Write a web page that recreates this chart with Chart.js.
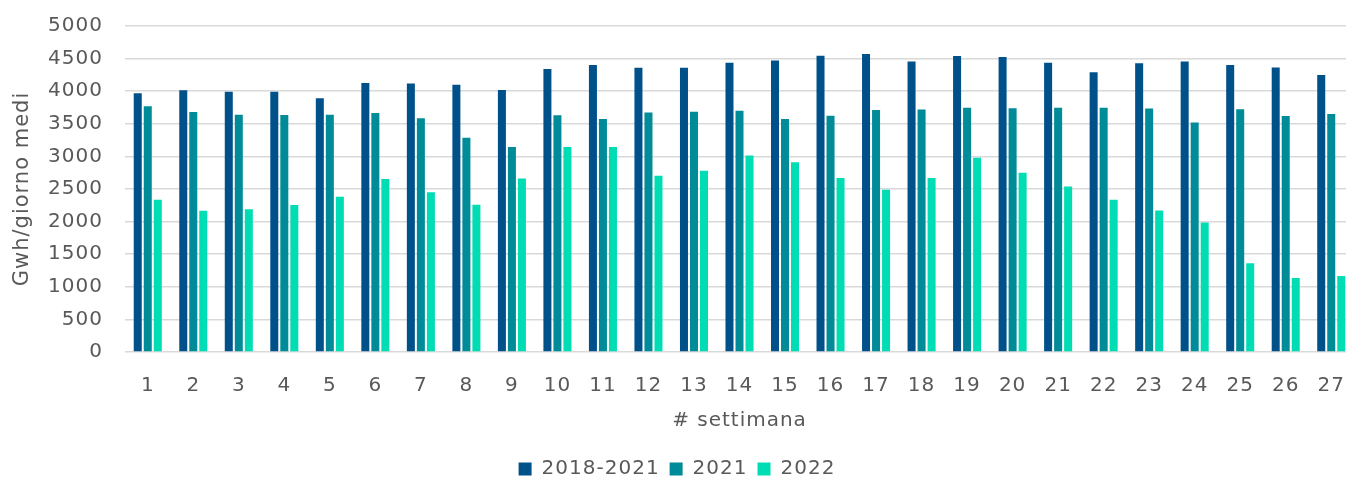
<!DOCTYPE html>
<html>
<head>
<meta charset="utf-8">
<script src="https://cdn.jsdelivr.net/npm/chart.js@4"></script>
<style>
  html, body { margin: 0; padding: 0; background: #fff; overflow: hidden; }
  #wrap { position: relative; width: 1360px; height: 489px; }
</style>
</head>
<body>
<div id="wrap"><canvas id="chart"></canvas></div>
<script>
// ---- Data ----
const WEEKS = ['1','2','3','4','5','6','7','8','9','10','11','12','13','14','15','16','17','18','19','20','21','22','23','24','25','26','27'];

const AVG_2018_2021 = [3970, 4015, 3990, 3990, 3890, 4125, 4120, 4100, 4020, 4340, 4400, 4360, 4360, 4435,
                       4470, 4545, 4570, 4455, 4540, 4525, 4435, 4290, 4430, 4455, 4400, 4365, 4250];
const VAL_2021      = [3770, 3680, 3640, 3635, 3640, 3665, 3585, 3285, 3145, 3630, 3575, 3675, 3685, 3700,
                       3575, 3625, 3710, 3720, 3745, 3740, 3745, 3745, 3735, 3520, 3725, 3620, 3650];
const VAL_2022      = [2335, 2165, 2190, 2255, 2380, 2655, 2450, 2260, 2660, 3145, 3145, 2705, 2780, 3015,
                       2910, 2670, 2490, 2670, 2980, 2750, 2540, 2335, 2170, 1985, 1360, 1135, 1165];

const SERIES_LABELS = ['2018-2021', '2021', '2022'];
const COLORS        = ['#00518a', '#008b98', '#00dcb3'];

const TEXT  = '#595959';
const FONT  = { family: 'DejaVu Sans', size: 20 };

// canvas has no letter-spacing option in Chart.js, so set it on the context
const spacing = {
  id: 'spacing',
  beforeUpdate(chart) { chart.ctx.letterSpacing = '1px'; },
  beforeDraw(chart)   { chart.ctx.letterSpacing = '1px'; },
};

new Chart(document.getElementById('chart'), {
  type: 'bar',
  data: {
    labels: WEEKS,
    datasets: [AVG_2018_2021, VAL_2021, VAL_2022].map((d, i) => ({
      label:              SERIES_LABELS[i],
      data:               d,
      backgroundColor:    COLORS[i],
      borderWidth:        0,
      categoryPercentage: 0.66,
      barPercentage:      0.8,
    })),
  },
  plugins: [spacing],
  options: {
    responsive:          true,
    maintainAspectRatio: false,
    animation:           false,
    layout: { padding: { top: 26, right: 6, left: 0, bottom: 0 } },
    plugins: {
      legend: {
        position: 'bottom',
        labels: {
          color:     TEXT,
          font:      FONT,
          boxWidth:  13,
          boxHeight: 13,
          padding:   10,
        },
      },
      tooltip: { enabled: false },
    },
    scales: {
      x: {
        grid:   { display: false },
        border: { display: false },
        ticks:  { color: TEXT, font: FONT, padding: 14, maxRotation: 0, autoSkip: false },
        title:  { display: true, text: '# settimana', color: TEXT, font: FONT, padding: { top: 0, bottom: 16 } },
        afterFit: s => { s.height = 97; },
      },
      y: {
        min: 0,
        max: 5000,
        grid:   { color: '#d9d9d9', lineWidth: 1.5, drawTicks: true, tickLength: 19, tickColor: 'rgba(0,0,0,0)' },
        border: { display: false },
        ticks:  { color: TEXT, font: FONT, stepSize: 500, padding: 3, callback: v => String(v) },
        title:  { display: true, text: 'Gwh/giorno medi', color: TEXT, font: { family: 'DejaVu Sans', size: 21 }, padding: { top: 10, bottom: 0 } },
        afterFit: s => { s.width = 125; },
      },
    },
  },
});
</script>
</body>
</html>
